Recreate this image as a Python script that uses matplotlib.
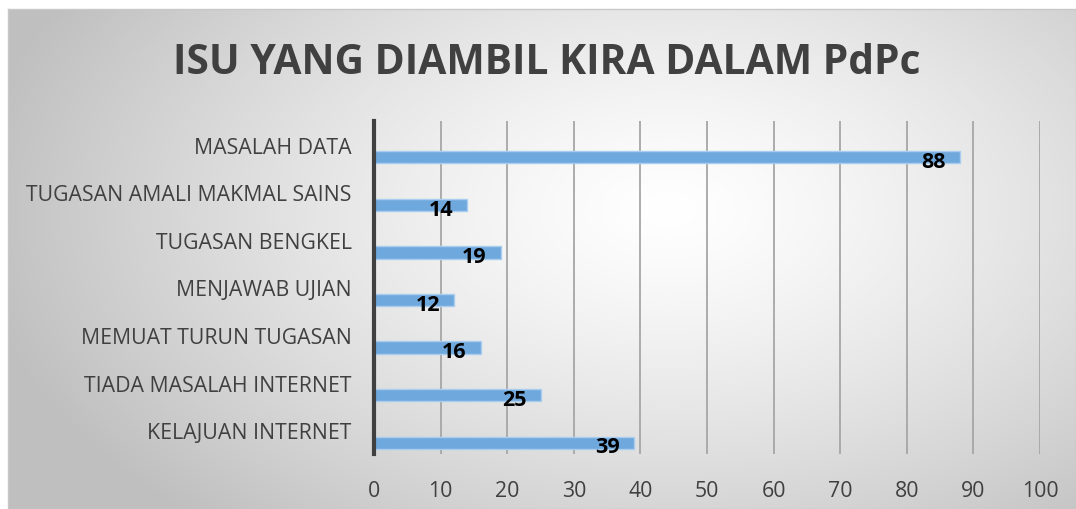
import numpy as np
import matplotlib
matplotlib.use("Agg")
import matplotlib.pyplot as plt

categories = ["MASALAH DATA", "TUGASAN AMALI MAKMAL SAINS", "TUGASAN BENGKEL",
              "MENJAWAB UJIAN", "MEMUAT TURUN TUGASAN", "TIADA MASALAH INTERNET",
              "KELAJUAN INTERNET"]
values = [88, 14, 19, 12, 16, 25, 39]
xticks = [0, 10, 20, 30, 40, 50, 60, 70, 80, 90, 100]

plt.rcParams["font.family"] = ["Open Sans", "DejaVu Sans"]

fig = plt.figure(figsize=(10.76, 5.1), dpi=100)

# background panel with radial gradient
bg = fig.add_axes([8 / 1076, 0, 1 - 8 / 1076, 1 - 10 / 510])
bg.set_zorder(-10)
h, w = 500, 1068
yy, xx = np.mgrid[0:h, 0:w]
d = np.sqrt(((xx - 660) / 700.0) ** 2 + ((yy - 200) / 420.0) ** 2)
shade = 1.0 - 0.25 * np.clip(d, 0, 1.0) ** 1.3
bg.imshow(np.dstack([shade] * 3), aspect="auto", extent=[0, 1, 0, 1])
bg.set_xlim(0, 1)
bg.set_ylim(0, 1)
bg.set_xticks([])
bg.set_yticks([])
for s in bg.spines.values():
    s.set_color("#c8c8c8")
    s.set_linewidth(1)

ax = fig.add_axes([374 / 1076, 1 - 455 / 510, 666 / 1076, 333 / 510])
ax.patch.set_visible(False)

pos = np.arange(len(categories))
ax.barh(pos + 0.263, values, height=0.26, color="#6fa8dc",
        edgecolor="#a9cdee", linewidth=1, zorder=3)

for p, v in zip(pos, values):
    ax.annotate(str(v), (v, p + 0.263), xytext=(-10, -3), textcoords="offset points",
                ha="right", va="center", fontsize=15.5, fontweight="bold",
                color="black", zorder=4)

ax.set_ylim(6.5, -0.5)
ax.set_xlim(0, 100)
ax.set_yticks(pos)
ax.set_yticklabels(categories)
ax.set_xticks(xticks)
ax.tick_params(axis="both", length=0, labelsize=15.3, colors="#404040")
ax.tick_params(axis="y", pad=16)
ax.tick_params(axis="x", pad=19)
ax.grid(axis="x", color="#a6a6a6", linewidth=1.3, zorder=0)
ax.set_axisbelow(True)
for k in ["top", "right", "bottom"]:
    ax.spines[k].set_visible(False)
ax.spines["left"].set_color("#404040")
ax.spines["left"].set_linewidth(3)
ax.spines["left"].set_zorder(5)

fig.text(0.508, 1 - 64 / 510, "ISU YANG DIAMBIL KIRA DALAM PdPc", ha="center", va="center",
         fontsize=29.3, fontweight="bold", color="#404040")

fig.savefig("out.png", dpi=100)
